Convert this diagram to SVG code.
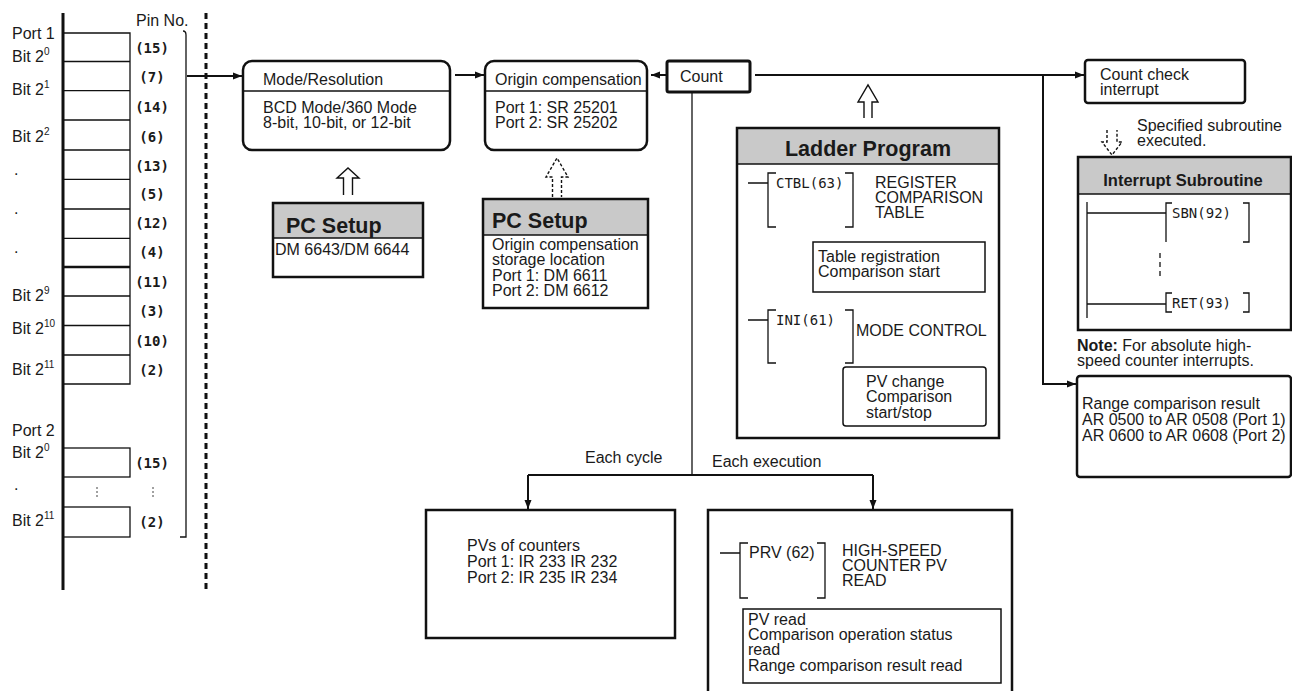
<svg xmlns="http://www.w3.org/2000/svg" width="1292" height="691" viewBox="0 0 1292 691">
<style>
text{font-family:"Liberation Sans",Arial,sans-serif;font-size:16px;fill:#1a1a1a}
.mono{font-family:"DejaVu Sans Mono","Liberation Mono",monospace;font-size:14px;font-weight:bold}
.ins{font-family:"DejaVu Sans Mono","Liberation Mono",monospace;font-size:14px}
.bold{font-weight:bold}
.h21{font-weight:bold;font-size:21.5px}
.h16{font-weight:bold;font-size:16.5px}
.box{fill:#fff;stroke:#111;stroke-width:2.5}
.thin{fill:#fff;stroke:#111;stroke-width:1.5}
.hdr{fill:#c9c9c9;stroke:none}
.ln{fill:none;stroke:#111;stroke-width:1.3}
.con{fill:none;stroke:#111;stroke-width:2}
.hol{fill:none;stroke:#111;stroke-width:1.4}
.sup{font-size:10px}
</style>
<defs>
<marker id="ah" markerWidth="10" markerHeight="8" refX="9" refY="4" orient="auto" markerUnits="userSpaceOnUse"><path d="M0,0.5 L9,4 L0,7.5 z" fill="#111"/></marker>
</defs>

<g id="port-panel">
<line x1="63" y1="13" x2="63" y2="590" stroke="#111" stroke-width="3"/>
<line x1="206" y1="13" x2="206" y2="590" stroke="#111" stroke-width="3" stroke-dasharray="6 4"/>
<g class="ln">
<path d="M63,33 H130 V384 H63"/>
<path d="M63,61.5 H130 M63,90.7 H130 M63,120 H130 M63,150 H130 M63,179.3 H130 M63,209 H130 M63,238.3 H130 M63,296 H130 M63,325.5 H130 M63,355 H130"/>
<path d="M63,267 H130" stroke-width="2.4"/>
<rect x="63" y="448" width="67" height="29"/>
<rect x="63" y="507" width="67" height="30"/>
<path d="M183,31 Q186,31 186,35 V537 H180"/>
<path d="M97,487 V498 M153,487 V498" stroke-width="0.8" stroke-dasharray="2 2"/>
</g>
<text x="136" y="26">Pin No.</text>
<text x="12" y="39">Port 1</text>
<text x="12" y="62">Bit 2<tspan class="sup" dy="-7">0</tspan></text>
<text x="12" y="95">Bit 2<tspan class="sup" dy="-7">1</tspan></text>
<text x="12" y="142">Bit 2<tspan class="sup" dy="-7">2</tspan></text>
<text x="14" y="175">.</text>
<text x="14" y="214">.</text>
<text x="14" y="253">.</text>
<text x="12" y="301">Bit 2<tspan class="sup" dy="-7">9</tspan></text>
<text x="12" y="334">Bit 2<tspan class="sup" dy="-7">10</tspan></text>
<text x="12" y="375">Bit 2<tspan class="sup" dy="-7">11</tspan></text>
<text x="12" y="436">Port 2</text>
<text x="12" y="458">Bit 2<tspan class="sup" dy="-7">0</tspan></text>
<text x="14" y="490">.</text>
<text x="12" y="526">Bit 2<tspan class="sup" dy="-7">11</tspan></text>
<g text-anchor="middle">
<text class="mono" x="152" y="53">(15)</text>
<text class="mono" x="152" y="82">(7)</text>
<text class="mono" x="152" y="112">(14)</text>
<text class="mono" x="152" y="142">(6)</text>
<text class="mono" x="152" y="171">(13)</text>
<text class="mono" x="152" y="199">(5)</text>
<text class="mono" x="152" y="228">(12)</text>
<text class="mono" x="152" y="257">(4)</text>
<text class="mono" x="152" y="287">(11)</text>
<text class="mono" x="152" y="316">(3)</text>
<text class="mono" x="152" y="346">(10)</text>
<text class="mono" x="152" y="375">(2)</text>
<text class="mono" x="152" y="468">(15)</text>
<text class="mono" x="152" y="527">(2)</text>
</g>
</g>

<g id="mode-resolution">
<rect class="box" x="243" y="61" width="207" height="89" rx="9"/>
<line x1="243" y1="91" x2="450" y2="91" stroke="#111" stroke-width="1.3"/>
<text x="263" y="85">Mode/Resolution</text>
<text x="263" y="113">BCD Mode/360 Mode</text>
<text x="263" y="128">8-bit, 10-bit, or 12-bit</text>
</g>

<g id="origin-compensation">
<rect class="box" x="485" y="61" width="162" height="89" rx="9"/>
<line x1="485" y1="91" x2="647" y2="91" stroke="#111" stroke-width="1.3"/>
<text x="495" y="85">Origin compensation</text>
<text x="495" y="113">Port 1: SR 25201</text>
<text x="495" y="128">Port 2: SR 25202</text>
</g>

<g id="count">
<rect x="667" y="61" width="83" height="31" rx="2" fill="#fff" stroke="#111" stroke-width="3"/>
<text x="680" y="82">Count</text>
</g>

<g id="pc-setup-1">
<rect class="hdr" x="273" y="203" width="150" height="35"/>
<rect x="273" y="203" width="150" height="74" fill="none" stroke="#111" stroke-width="2.5"/>
<line x1="273" y1="238" x2="423" y2="238" stroke="#111" stroke-width="1.3"/>
<text class="h21" x="286" y="233">PC Setup</text>
<text x="275" y="255">DM 6643/DM 6644</text>
</g>

<g id="pc-setup-2">
<rect class="hdr" x="483" y="199" width="165" height="36"/>
<rect x="483" y="199" width="165" height="109" fill="none" stroke="#111" stroke-width="2.5"/>
<line x1="483" y1="235" x2="648" y2="235" stroke="#111" stroke-width="1.3"/>
<text class="h21" x="492" y="228">PC Setup</text>
<text x="492" y="250">Origin compensation</text>
<text x="492" y="265">storage location</text>
<text x="492" y="281">Port 1: DM 6611</text>
<text x="492" y="296">Port 2: DM 6612</text>
</g>

<g id="ladder-program">
<rect class="hdr" x="737" y="128" width="262" height="36"/>
<rect x="737" y="128" width="262" height="310" fill="none" stroke="#111" stroke-width="2.5"/>
<line x1="737" y1="164" x2="999" y2="164" stroke="#111" stroke-width="1.3"/>
<text class="h21" x="868" y="156" text-anchor="middle">Ladder Program</text>
<path class="ln" d="M748,183 H768 M776,173 H768 V227 H776 M845,173 H853 V227 H845"/>
<text class="ins" x="776" y="188">CTBL(63)</text>
<text x="875" y="188">REGISTER</text>
<text x="875" y="203">COMPARISON</text>
<text x="875" y="218">TABLE</text>
<rect class="thin" x="813" y="242" width="172" height="50"/>
<text x="818" y="262">Table registration</text>
<text x="818" y="277">Comparison start</text>
<path class="ln" d="M748,320 H768 M776,310 H768 V363 H776 M845,310 H853 V363 H845"/>
<text class="ins" x="776" y="325">INI(61)</text>
<text x="856" y="336">MODE CONTROL</text>
<rect class="thin" x="843" y="367" width="143" height="59" rx="3"/>
<text x="866" y="387">PV change</text>
<text x="866" y="402">Comparison</text>
<text x="866" y="418">start/stop</text>
</g>

<g id="count-check-interrupt">
<rect class="box" x="1085" y="60" width="160" height="43" rx="3"/>
<text x="1100" y="80">Count check</text>
<text x="1100" y="95">interrupt</text>
</g>

<g id="subroutine-label">
<text x="1137" y="131">Specified subroutine</text>
<text x="1137" y="146">executed.</text>
</g>

<g id="interrupt-subroutine">
<rect class="hdr" x="1078" y="157" width="213" height="37"/>
<rect x="1078" y="157" width="213" height="173" fill="none" stroke="#111" stroke-width="2.5"/>
<line x1="1078" y1="194" x2="1291" y2="194" stroke="#111" stroke-width="1.3"/>
<text class="h16" x="1183" y="186" text-anchor="middle">Interrupt Subroutine</text>
<path class="ln" d="M1087,202 V318 M1087,213 H1166 M1172,203 H1166 V242 M1243,203 H1249 V242 H1243"/>
<path class="ln" d="M1087,304 H1166 M1172,293 H1166 V312 H1172 M1243,293 H1249 V312 H1243"/>
<path class="ln" d="M1160,253 V278" stroke-dasharray="5 4"/>
<text class="ins" x="1172" y="218">SBN(92)</text>
<text class="ins" x="1172" y="308">RET(93)</text>
</g>

<g id="note">
<text x="1077" y="351"><tspan class="bold">Note:</tspan> For absolute high-</text>
<text x="1077" y="366">speed counter interrupts.</text>
</g>

<g id="range-comparison">
<rect class="box" x="1077" y="376" width="214" height="101" rx="3"/>
<text x="1082" y="409">Range comparison result</text>
<text x="1082" y="425">AR 0500 to AR 0508 (Port 1)</text>
<text x="1082" y="441">AR 0600 to AR 0608 (Port 2)</text>
</g>

<g id="pv-counters">
<rect class="box" x="426" y="510" width="249" height="128"/>
<text x="467" y="551">PVs of counters</text>
<text x="467" y="567">Port 1: IR 233 IR 232</text>
<text x="467" y="583">Port 2: IR 235 IR 234</text>
</g>

<g id="prv-read">
<path d="M708,695 V510 H1012 V695" fill="#fff" stroke="#111" stroke-width="2.5"/>
<path class="ln" d="M720,553 H740 M748,543 H740 V598 H748 M817,543 H825 V598 H817"/>
<text x="749" y="558">PRV (62)</text>
<text x="842" y="556">HIGH-SPEED</text>
<text x="842" y="571">COUNTER PV</text>
<text x="842" y="586">READ</text>
<rect class="thin" x="743" y="609" width="258" height="74"/>
<text x="748" y="625">PV read</text>
<text x="748" y="640">Comparison operation status</text>
<text x="748" y="655">read</text>
<text x="748" y="671">Range comparison result read</text>
</g>

<g id="connectors">
<path class="con" d="M187,76 H242" marker-end="url(#ah)"/>
<path class="con" d="M455,75 H484" marker-end="url(#ah)"/>
<path class="con" d="M667,75 H651" marker-end="url(#ah)"/>
<path class="con" d="M755,75 H1084" marker-end="url(#ah)"/>
<path class="con" d="M1043,75 V384 H1076" marker-end="url(#ah)"/>
<path d="M692,92 V475" fill="none" stroke="#111" stroke-width="1.3"/>
<path class="con" d="M528,475 H873"/>
<path class="con" d="M528,475 V509" marker-end="url(#ah)"/>
<path class="con" d="M873,475 V509" marker-end="url(#ah)"/>
<path class="hol" d="M343.5,195 V178 H337 L348,168 L359,178 H352.5 V195"/>
<path class="hol" d="M552.5,197 V177 H546 L557,158 L568,177 H561.5 V197" stroke-dasharray="3 2"/>
<path class="hol" d="M864,118 V102 H858 L868,85 L878,102 H872 V118"/>
<path class="hol" d="M1107,130 V142 H1102 L1112,155 L1122,142 H1117 V130" stroke-dasharray="3 2"/>
<text x="585" y="463">Each cycle</text>
<text x="712" y="467">Each execution</text>
</g>
</svg>
